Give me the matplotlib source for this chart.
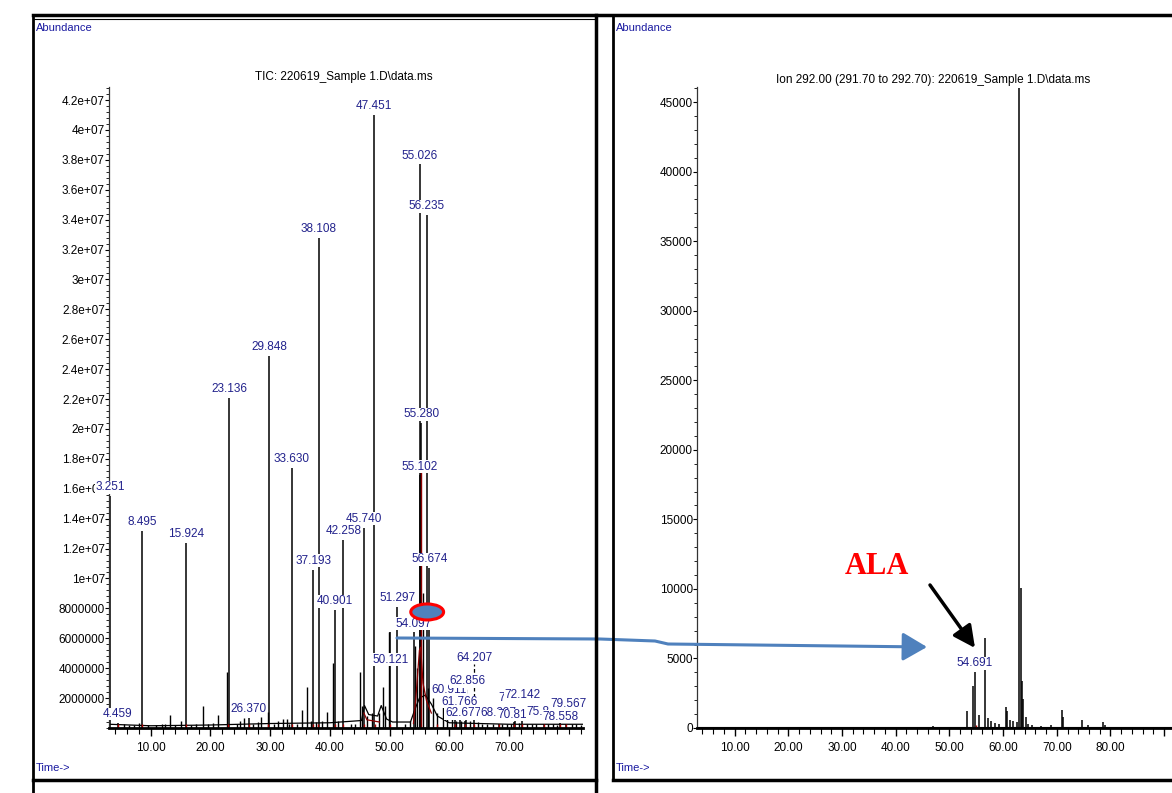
import matplotlib
matplotlib.use("Agg")
import matplotlib.pyplot as plt
from matplotlib.lines import Line2D
from matplotlib.patches import Ellipse, FancyArrowPatch
from matplotlib.path import Path
import numpy as np

plt.rcParams['font.family'] = ['Liberation Sans', 'DejaVu Sans']

# ---- left panel: TIC, labelled peaks (min, abundance) ----
tic_labels = ['3.251', '4.459', '8.495', '15.924', '23.136', '26.370', '29.848', '33.630',
              '37.193', '38.108', '40.901', '42.258', '45.740', '47.451', '50.121', '51.297',
              '54.097', '55.026', '55.102', '55.280', '56.235', '56.674', '60.911', '61.766',
              '62.677', '62.856', '64.207', '68.297', '70.813', '71.061', '72.142', '75.896',
              '78.558', '79.567']
tic_peak_t = [float(s) for s in tic_labels]
tic_peak_h = [15.5e6, 0.35e6, 13.2e6, 12.4e6, 22.1e6, 0.7e6, 24.9e6, 17.4e6,
              10.6e6, 32.8e6, 7.9e6, 12.6e6, 13.4e6, 41.0e6, 6.4e6, 8.1e6,
              6.4e6, 37.7e6, 16.9e6, 20.4e6, 34.3e6, 10.7e6, 0.9e6, 0.6e6,
              0.5e6, 0.7e6, 0.8e6, 0.3e6, 0.4e6, 0.5e6, 0.6e6, 0.3e6,
              0.35e6, 0.3e6]

# small unlabelled peaks
tic_minor_t = [5.5, 6.3, 7.2, 8.0, 9.5, 10.8, 11.9, 12.4, 13.2, 14.0, 15.1, 16.8, 17.6, 18.8,
               19.6, 20.5, 21.3, 22.8, 24.4, 24.9, 25.6, 27.2, 27.9, 28.4, 29.6, 30.6, 31.3,
               32.1, 32.8, 33.2, 34.5, 35.4, 36.2, 36.8, 37.6, 38.6, 39.5, 40.6, 41.3, 43.5,
               44.2, 45.1, 45.4, 46.3, 47.1, 48.3, 48.9, 49.2, 49.9, 52.5, 53.5, 54.3, 54.6,
               55.6, 56.5, 57.3, 57.9, 58.9, 59.6, 60.4, 61.2, 62.0, 63.5, 64.8, 65.5, 66.4,
               67.4, 68.8, 69.6, 70.3, 71.6, 73.0, 73.8, 74.5, 76.5, 77.4, 78.0, 80.5, 81.3, 82.0]
tic_minor_h = [0.25, 0.2, 0.2, 0.35, 0.2, 0.2, 0.25, 0.3, 0.87, 0.2, 0.45, 0.2, 0.25, 1.47,
               0.3, 0.35, 0.9, 3.75, 0.3, 0.45, 0.7, 0.3, 0.4, 0.75, 1.1, 0.3, 0.45,
               0.6, 0.6, 0.3, 0.3, 1.2, 2.75, 0.5, 0.4, 0.5, 1.1, 4.35, 0.5, 0.3,
               0.3, 3.75, 1.5, 0.8, 1.0, 1.0, 2.75, 1.5, 6.4, 0.3, 0.5, 5.5, 4.0,
               9.0, 2.7, 2.0, 1.0, 1.7, 0.6, 0.6, 0.5, 0.5, 0.45, 0.4, 0.3, 0.25,
               0.3, 0.25, 0.3, 0.3, 0.35, 0.3, 0.25, 0.3, 0.25, 0.3, 0.2, 0.3, 0.25, 0.2]

# baseline of the TIC trace
tic_base_t = [3.0, 10, 20, 30, 40, 45.3, 45.8, 46.5, 48.0, 48.6, 49.5, 50.5, 53.5, 54.2,
              55.0, 56.0, 57.0, 58.0, 60.0, 70, 82.4]
tic_base_y = [0.25, 0.15, 0.2, 0.3, 0.35, 0.5, 1.5, 0.9, 0.8, 1.5, 0.6, 0.4, 0.4, 1.2,
              2.0, 2.2, 1.6, 0.8, 0.35, 0.25, 0.25]

# integration marks (dark red)
int_red_t = [45.7, 46.2, 48.3]
int_red_y = [1.0, 0.55, 0.4]
int_clu_t = [54.0, 54.4, 55.0, 55.2, 55.6, 56.2, 57.0]
int_clu_y = [0.3, 2.0, 5.2, 5.4, 3.0, 1.8, 1.0]
red_mark_t = [4.5, 8.5, 15.9, 23.0, 26.4, 29.7, 33.6, 37.1, 38.0, 40.9, 42.2, 45.7, 47.5, 50.1,
              58.0, 60.9, 62.7, 64.2, 68.3, 70.8, 72.1, 75.9, 78.5, 79.5]

tic_yticks = [2e6, 4e6, 6e6, 8e6, 10e6, 12e6, 14e6, 16e6, 18e6, 20e6, 22e6, 24e6, 26e6,
              28e6, 30e6, 32e6, 34e6, 36e6, 38e6, 40e6, 42e6]
tic_yticklabels = ['2000000', '4000000', '6000000', '8000000', '1e+07', '1.2e+07', '1.4e+07',
                   '1.6e+07', '1.8e+07', '2e+07', '2.2e+07', '2.4e+07', '2.6e+07', '2.8e+07',
                   '3e+07', '3.2e+07', '3.4e+07', '3.6e+07', '3.8e+07', '4e+07', '4.2e+07']

# ---- right panel: ion 292 ----
ion_peak_t = [47.0, 53.2, 54.35, 54.691, 55.5, 56.6, 57.2, 57.8, 58.5, 59.3, 60.5, 60.8, 61.2,
              61.8, 62.5, 63.05, 63.3, 63.55, 63.8, 64.2, 64.7, 65.3, 67.0, 68.9, 70.9, 71.2,
              74.7, 75.9, 78.6, 78.9]
ion_peak_h = [150, 1250, 3050, 4000, 900, 6500, 700, 500, 350, 300, 1500, 1200, 600,
              500, 400, 46000, 10100, 3400, 2100, 800, 300, 200, 150, 250, 1300, 800,
              600, 200, 450, 200]
ion_label = '54.691'
ion_yticks = [0, 5000, 10000, 15000, 20000, 25000, 30000, 35000, 40000, 45000]

# label placement for crowded TIC labels: (time, abundance) of label centre
label_pos = {
    '50.121': (50.1, 4.55e6), '60.911': (60.0, 2.55e6), '61.766': (61.7, 1.74e6),
    '62.677': (62.3, 1.0e6), '62.856': (63.0, 3.14e6), '64.207': (64.3, 4.68e6),
    '68.297': (68.2, 1.0e6), '70.813': (71.0, 0.87e6), '71.061': (71.2, 2.0e6),
    '72.142': (72.2, 2.2e6), '75.896': (75.9, 1.07e6), '78.558': (78.6, 0.74e6),
    '79.567': (79.9, 1.6e6),
}
leaders = ['64.207', '62.856']

W, H = 1172, 793
fig = plt.figure(figsize=(W / 100, H / 100), dpi=100)


def fx(px):
    return px / W


def fy(py):
    return 1 - py / H


navy = '#22228c'
lab_kw = dict(color=navy, fontsize=8.5, ha='center', zorder=6,
              bbox=dict(facecolor='white', edgecolor='none', pad=0.3))

# ================= left panel =================
ax1 = fig.add_axes([fx(109), fy(728), fx(583) - fx(109), fy(87) - fy(728)])
ax1.plot(tic_base_t, np.array(tic_base_y) * 1e6, color='black', lw=0.9)
ax1.vlines(tic_minor_t, 0, np.array(tic_minor_h) * 1e6, color='black', lw=1.0)
ax1.vlines(tic_peak_t, 0, tic_peak_h, color='black', lw=1.1)
ax1.vlines(55.2, 0, 17.5e6, color='#8b0000', lw=1.0)
ax1.plot(int_red_t, np.array(int_red_y) * 1e6, color='#8b0000', lw=0.9)
ax1.plot(int_clu_t, np.array(int_clu_y) * 1e6, color='#8b0000', lw=0.9)
ax1.plot(red_mark_t, [0.15e6] * len(red_mark_t), ls='none', marker='|', ms=3,
         color='#b00000', mew=1)

for lab, t, h in zip(tic_labels, tic_peak_t, tic_peak_h):
    if lab in label_pos:
        lx, ly = label_pos[lab]
        ax1.text(lx, ly, lab, va='center', **lab_kw)
        if lab in leaders:
            ax1.vlines(t, h, ly - 0.4e6, color='black', lw=0.9, ls=(0, (3, 2)))
    else:
        ax1.annotate(lab, (t, h), xytext=(0, 2), textcoords='offset points',
                     va='bottom', annotation_clip=False, **lab_kw)

ax1.set_xlim(3.0, 82.4)
ax1.set_ylim(0, 4.287e7)
ax1.set_xticks(np.arange(10, 80, 10))
ax1.set_xticklabels(['%.2f' % v for v in np.arange(10, 80, 10)])
ax1.set_xticks(np.arange(4, 83, 2), minor=True)
ax1.set_yticks(tic_yticks)
ax1.set_yticklabels(tic_yticklabels)
ax1.set_yticks(np.arange(0, 4.29e7, 4e5), minor=True)

ax1.add_patch(Ellipse((56.3, 7.76e6), 5.5, 1.07e6, facecolor='#4f81bd',
                      edgecolor='red', lw=2.2, zorder=8, clip_on=False))

# ================= right panel =================
ax2 = fig.add_axes([fx(697), fy(728), 92 * 5.37 / W, fy(87) - fy(728)])
ax2.plot([3.0, 95], [60, 60], color='black', lw=0.8)
ax2.vlines(ion_peak_t, 0, ion_peak_h, color='black', lw=1.1)
ax2.plot([55.0], [80], ls='none', marker='|', ms=3, color='#b00000', mew=1)
ax2.annotate(ion_label, (float(ion_label), ion_peak_h[ion_peak_t.index(54.691)]),
             xytext=(0, 6.5), textcoords='offset points', va='center',
             annotation_clip=False, **lab_kw)
ax2.set_xlim(3.0, 95)
ax2.set_ylim(0, 46080)
ax2.set_xticks(np.arange(10, 100, 10))
ax2.set_xticklabels(['%.2f' % v for v in np.arange(10, 90, 10)] + [''])
ax2.set_xticks(np.arange(4, 95, 2), minor=True)
ax2.set_yticks(ion_yticks)
ax2.set_yticklabels([str(v) for v in ion_yticks])
ax2.set_yticks(np.arange(0, 46001, 1000), minor=True)

for ax in (ax1, ax2):
    for s in ('top', 'right'):
        ax.spines[s].set_visible(False)
    ax.spines['bottom'].set_linewidth(2.0)
    ax.spines['left'].set_linewidth(0.9)
    ax.spines['left'].set_color('#333333')
    ax.tick_params(axis='x', which='major', length=6, width=1, labelsize=8.5, pad=4)
    ax.tick_params(axis='x', which='minor', length=4, width=0.8)
    ax.tick_params(axis='y', which='major', length=3, width=0.8, labelsize=8.5, pad=0)
    ax.tick_params(axis='y', which='minor', length=2, width=0.6)
    ax.patch.set_alpha(0)

# ================= titles & axis captions =================
fig.text(fx(344), fy(77), 'TIC: 220619_Sample 1.D\\data.ms', ha='center', va='center',
         fontsize=8.5)
fig.text(fx(933), fy(80), 'Ion 292.00 (291.70 to 292.70): 220619_Sample 1.D\\data.ms',
         ha='center', va='center', fontsize=8.5)
for x0 in (36, 616):
    fig.text(fx(x0), fy(28), 'Abundance', ha='left', va='center', fontsize=8, color='#1a1aa0')
    fig.text(fx(x0), fy(768), 'Time->', ha='left', va='center', fontsize=8, color='#1a1aa0')

fig.text(fx(877), fy(566), 'ALA', ha='center', va='center', fontsize=22, color='red',
         fontweight='bold', family=['Liberation Serif', 'DejaVu Serif'])
fig.add_artist(FancyArrowPatch((fx(930), fy(585)), (fx(975), fy(648)),
                               transform=fig.transFigure, arrowstyle='-|>,head_length=0.6,head_width=0.3',
                               mutation_scale=22, color='black', lw=2.5, shrinkA=0, shrinkB=0))

blue_path = Path([(fx(397), fy(638)), (fx(600), fy(639)), (fx(655), fy(641)),
                  (fx(668), fy(644)), (fx(927), fy(647))],
                 [Path.MOVETO] + [Path.LINETO] * 4)
fig.add_artist(FancyArrowPatch(path=blue_path, transform=fig.transFigure,
                               arrowstyle='-|>,head_length=0.6,head_width=0.35',
                               mutation_scale=25, color='#4f81bd', lw=2.2))

# ================= frame lines =================
frame = [
    ([33, 1172], [15, 15], 2.5), ([33, 596], [19, 19], 0.8),
    ([33, 33], [15, 793], 2.0), ([596, 596], [15, 793], 2.5),
    ([613, 613], [15, 780], 2.0), ([33, 596], [780, 780], 2.5),
    ([613, 1172], [780, 780], 2.5),
]
for xs, ys, lw in frame:
    fig.add_artist(Line2D([fx(v) for v in xs], [fy(v) for v in ys], color='black', lw=lw))

fig.savefig('out.png', dpi=100)
